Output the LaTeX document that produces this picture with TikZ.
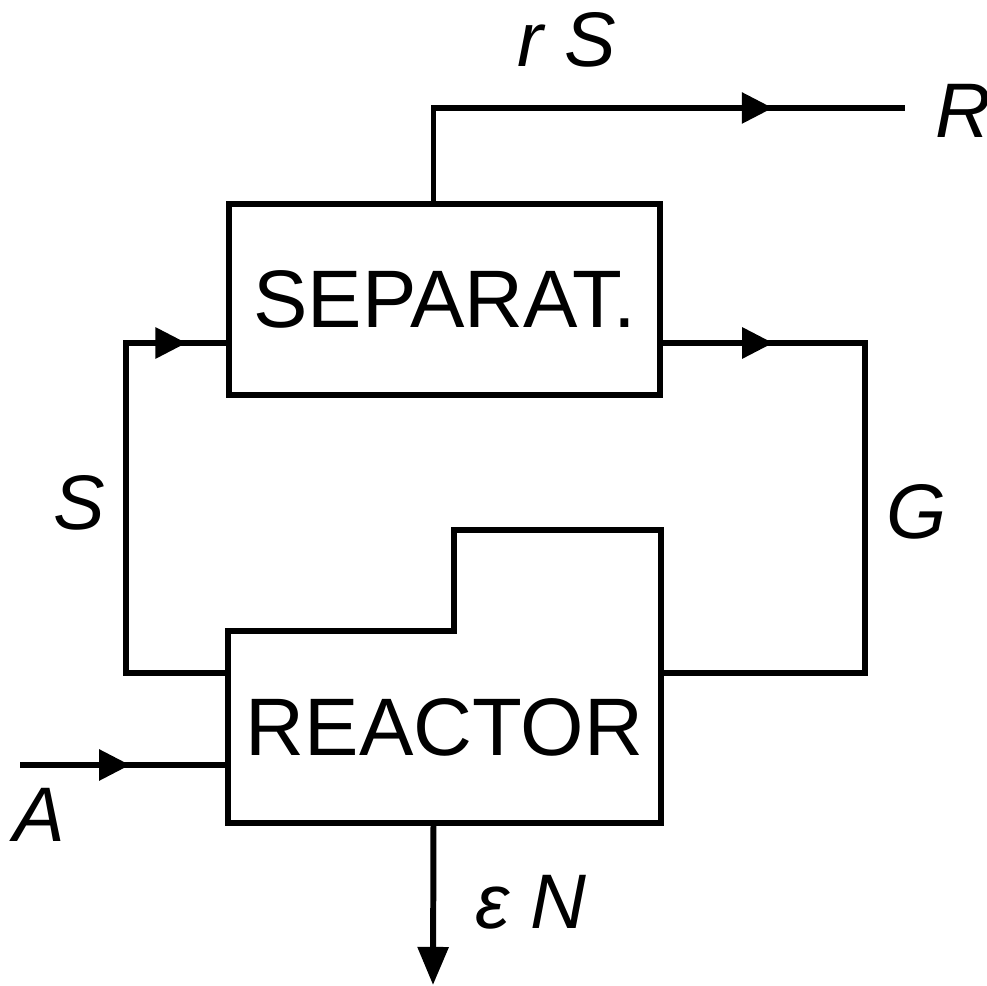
\documentclass[tikz,border=0pt]{standalone}
\usepackage{fontspec}
\setmainfont{Liberation Sans}
\usetikzlibrary{arrows.meta,calc,decorations.markings,positioning}

\tikzset{
  unit/.style={minimum width=4.31cm,minimum height=1.91cm,inner sep=0pt,
    font=\fontsize{23.2}{27}\selectfont},
  flow/.style={line width=1.7pt},
  midarrow/.style={postaction={decorate,decoration={markings,
    mark=at position #1 with {\arrow{Triangle[length=0.31cm,width=0.30cm]}}}}},
  lbl/.style={font=\fontsize{22}{26}\selectfont\itshape,inner sep=0pt}
}

\begin{document}
\begin{tikzpicture}[x=0.01cm,y=-0.01cm]
  \useasboundingbox (0,0) rectangle (987,986);
  % the two units
  \node[unit,draw,flow] (sep) at (444.5,299.5) {SEPARAT.};
  \node[unit] (reac) at (444.5,727) {REACTOR};
  \draw[flow] (reac.south west) -- (reac.north west) -- ++(226,0)
    -- ++(0,-101) -| (reac.south east) -- cycle;
  % free ends
  \coordinate (Rout) at (905,108);
  \coordinate (Ain) at (20,765);
  \coordinate (Nout) at (433,985);
  % streams
  \draw[flow,midarrow=4.32cm] ($(sep.north)+(-11,0)$) |- (Rout);
  \draw[flow,midarrow=4.92cm] ($(reac.west)+(0,-54)$) -- ++(-102,0)
    |- ($(sep.west)+(0,43.5)$);
  \draw[flow,midarrow=1.10cm] ($(sep.east)+(0,43.5)$) -- ++(202,0)
    |- ($(reac.east)+(0,-54)$);
  \draw[flow,midarrow=1.10cm] (Ain) -- (Ain -| reac.west);
  \draw[flow,-{Triangle[length=0.38cm,width=0.30cm]}]
    ($(reac.south)+(-11,0)$) -- (Nout);
  % labels
  \node[lbl] (rS) at (567,40) {r S};
  \node[lbl,anchor=west] (Rlbl) at (935,111) {R};
  \node[lbl] (Slbl) at (79,503) {S};
  \node[lbl] (Glbl) at (917,512) {G};
  \node[lbl] (Albl) at (39,815) {A};
  \node[lbl] (eN) at (531,902) {ε N};
\end{tikzpicture}
\end{document}
